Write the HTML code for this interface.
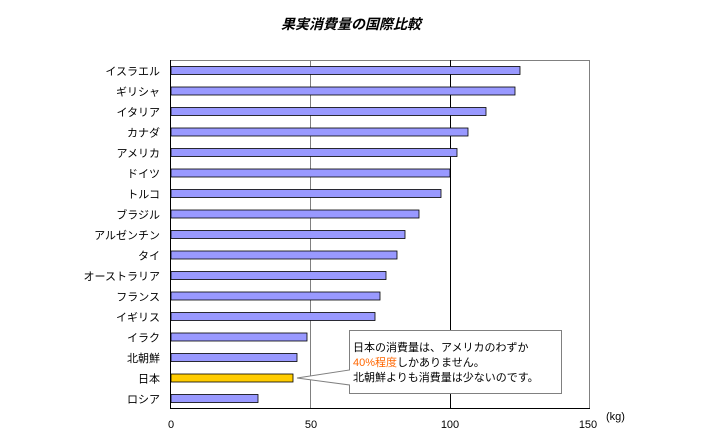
<!DOCTYPE html><html><head><meta charset="utf-8"><style>body{margin:0;background:#fff}svg{display:block}text{font-family:"Liberation Sans","Noto Sans CJK JP",sans-serif;font-size:11px}</style></head><body>
<svg width="702" height="437" xmlns="http://www.w3.org/2000/svg">
<text x="351" y="29" text-anchor="middle" style="font-size:14px;font-weight:bold;font-style:italic">果実消費量の国際比較</text>
<rect x="170.5" y="60.5" width="419" height="348" fill="#fff" stroke="#808080"/>
<line x1="310.5" y1="60" x2="310.5" y2="408" stroke="#808080"/>
<line x1="450.5" y1="60" x2="450.5" y2="408" stroke="#000"/>
<line x1="170" y1="408.5" x2="590" y2="408.5" stroke="#000"/>
<line x1="170.5" y1="60" x2="170.5" y2="409" stroke="#000"/>
<g id="bars" stroke="#000" stroke-width="0.8">
<rect x="171" y="66.5" width="349" height="8" fill="#9999ff"/>
<rect x="171" y="87" width="344" height="8" fill="#9999ff"/>
<rect x="171" y="107.5" width="315" height="8" fill="#9999ff"/>
<rect x="171" y="128" width="297" height="8" fill="#9999ff"/>
<rect x="171" y="148.5" width="286" height="8" fill="#9999ff"/>
<rect x="171" y="169" width="279" height="8" fill="#9999ff"/>
<rect x="171" y="189.5" width="270" height="8" fill="#9999ff"/>
<rect x="171" y="210" width="248" height="8" fill="#9999ff"/>
<rect x="171" y="230.5" width="234" height="8" fill="#9999ff"/>
<rect x="171" y="251" width="226" height="8" fill="#9999ff"/>
<rect x="171" y="271.5" width="215" height="8" fill="#9999ff"/>
<rect x="171" y="292" width="209" height="8" fill="#9999ff"/>
<rect x="171" y="312.5" width="204" height="8" fill="#9999ff"/>
<rect x="171" y="333" width="136" height="8" fill="#9999ff"/>
<rect x="171" y="353.5" width="126" height="8" fill="#9999ff"/>
<rect x="171" y="374" width="122" height="8" fill="#ffcc00"/>
<rect x="171" y="394.5" width="87" height="8" fill="#9999ff"/>
</g>
<g text-anchor="end">
<text x="160" y="75">イスラエル</text>
<text x="160" y="95.5">ギリシャ</text>
<text x="160" y="116">イタリア</text>
<text x="160" y="136.5">カナダ</text>
<text x="160" y="157">アメリカ</text>
<text x="160" y="177.5">ドイツ</text>
<text x="160" y="198">トルコ</text>
<text x="160" y="218.5">ブラジル</text>
<text x="160" y="239">アルゼンチン</text>
<text x="160" y="259.5">タイ</text>
<text x="160" y="280">オーストラリア</text>
<text x="160" y="300.5">フランス</text>
<text x="160" y="321">イギリス</text>
<text x="160" y="341.5">イラク</text>
<text x="160" y="362">北朝鮮</text>
<text x="160" y="382.5">日本</text>
<text x="160" y="403">ロシア</text>
</g>
<g text-anchor="middle">
<text x="171" y="428">0</text><text x="311" y="428">50</text><text x="450" y="428">100</text><text x="588" y="428">150</text>
</g>
<text x="606" y="420">(kg)</text>
<path d="M349.5,330.5 H561.5 V393.5 H349.5 V385 L297,378 L349.5,370 Z" fill="#fff" stroke="#808080"/>
<text x="353" y="351">日本の消費量は、アメリカのわずか</text>
<text x="353" y="366"><tspan fill="#ff6600">40%程度</tspan>しかありません。</text>
<text x="353" y="381">北朝鮮よりも消費量は少ないのです。</text>
</svg></body></html>
